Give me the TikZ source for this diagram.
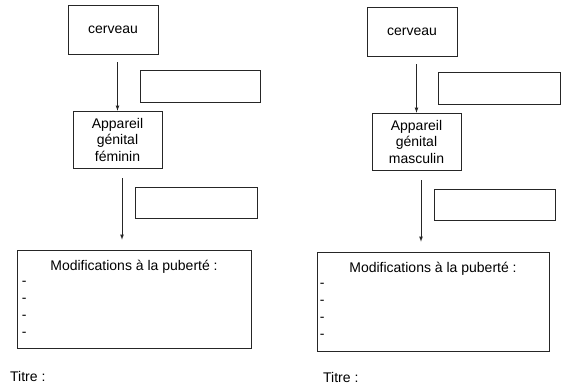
\documentclass[tikz,border=0pt]{standalone}
\usepackage{fontspec}
\setmainfont{Liberation Sans}
\usetikzlibrary{arrows,positioning}

\tikzset{
  boite/.style={draw=black!85,line width=0.7pt,inner sep=0pt,align=center},
  tiret/.style={anchor=west,inner sep=0pt},
  fleche/.style={->,>=latex,line width=0.7pt,black!85}
}

\begin{document}
\begin{tikzpicture}[x=1pt,y=-1pt,font=\fontsize{14}{16.5}\selectfont]
\useasboundingbox(0,0)rectangle(562,387);
% feminin
\begin{scope}
\node[boite,minimum width=90pt,minimum height=49pt](cerF)at(113,29.5){cerveau};
\node[boite,minimum width=89pt,minimum height=57pt](appF)at(117.5,139.5){Appareil\\génital\\féminin};
\node[boite,minimum width=120pt,minimum height=32pt](videUnF)at(200,86){};
\node[boite,minimum width=122pt,minimum height=31pt](videDeuxF)at(196,202.5){};
\node[boite,minimum width=234pt,minimum height=98pt](modF)at(134,299){};
\node(puberteF)at([yshift=-17pt]modF.north){Modifications à la puberté :};
\node[tiret](aF)at([xshift=5pt,yshift=-34pt]modF.north west){-};
\node[tiret](bF)at([xshift=5pt,yshift=-51pt]modF.north west){-};
\node[tiret](cF)at([xshift=5pt,yshift=-68pt]modF.north west){-};
\node[tiret](dF)at([xshift=5pt,yshift=-85pt]modF.north west){-};
\node[tiret](titreF)at(10,376){Titre :};
\draw[fleche,shorten <=8pt](cerF.south-|appF.north)--(appF.north);
\draw[fleche,shorten <=10pt,shorten >=10pt]([xshift=4.5pt]appF.south)--([xshift=4.5pt]appF.south|-modF.north);
\end{scope}
% masculin
\begin{scope}[shift={(299,2)}]
\node[boite,minimum width=90pt,minimum height=49pt](cerM)at(113,29.5){cerveau};
\node[boite,minimum width=89pt,minimum height=57pt](appM)at(117.5,139.5){Appareil\\génital\\masculin};
\node[boite,minimum width=122pt,minimum height=32pt](videUnM)at(200,86){};
\node[boite,minimum width=121pt,minimum height=31pt](videDeuxM)at(196,202.5){};
\node[boite,minimum width=232pt,minimum height=99pt](modM)at(134,299.5){};
\node(puberteM)at([yshift=-17pt]modM.north){Modifications à la puberté :};
\node[tiret](aM)at([xshift=3pt,yshift=-34pt]modM.north west){-};
\node[tiret](bM)at([xshift=3pt,yshift=-51pt]modM.north west){-};
\node[tiret](cM)at([xshift=3pt,yshift=-68pt]modM.north west){-};
\node[tiret](dM)at([xshift=3pt,yshift=-85pt]modM.north west){-};
\node[tiret](titreM)at(24,375){Titre :};
\draw[fleche,shorten <=8pt](cerM.south-|appM.north)--(appM.north);
\draw[fleche,shorten <=10pt,shorten >=10pt]([xshift=4.5pt]appM.south)--([xshift=4.5pt]appM.south|-modM.north);
\end{scope}
\end{tikzpicture}
\end{document}
